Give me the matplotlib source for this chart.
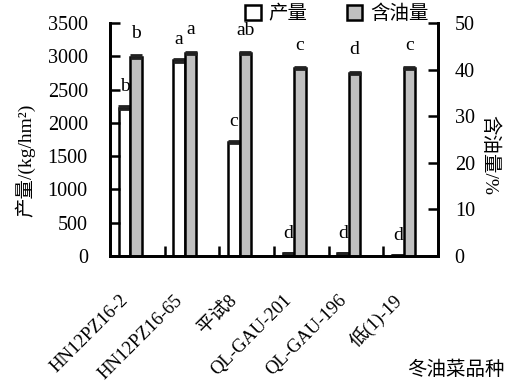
import matplotlib.pyplot as plt
import matplotlib.transforms as mtransforms
from matplotlib.patches import Patch
import numpy as np

plt.rcParams['font.family'] = ['Liberation Serif', 'Noto Sans CJK SC']

# 数据
varieties = ['HN12PZ16-2', 'HN12PZ16-65', '平试8', 'QL-GAU-201', 'QL-GAU-196', '低(1)-19']
yield_vals = [2230, 2940, 1715, 40, 40, 10]
yield_err = [20, 20, 10, 10, 10, 0]
oil_vals = [42.8, 43.6, 43.5, 40.3, 39.3, 40.3]
oil_err = [0.3, 0.2, 0.2, 0.2, 0.3, 0.2]
yield_letters = ['b', 'a', 'c', 'd', 'd', 'd']
oil_letters = ['b', 'a', 'ab', 'c', 'd', 'c']

fig = plt.figure(figsize=(5.15, 3.85), dpi=100)
ax = fig.add_axes([0.2136, 0.335, 0.637, 0.605])
ax2 = ax.twinx()

x = np.arange(len(varieties))
w = 0.21
ekw = dict(capsize=4, capthick=2, elinewidth=1.2, ecolor='#222222')
ax.bar(x - 0.235, yield_vals, w, color='white', edgecolor='black', lw=1.8,
       yerr=yield_err, error_kw=ekw)
ax2.bar(x - 0.025, oil_vals, w, color='#c0c0c0', edgecolor='black', lw=1.8,
        yerr=oil_err, error_kw=ekw)

# 显著性字母
for i in range(len(x)):
    ax.annotate(yield_letters[i], (x[i] - 0.235, yield_vals[i] + yield_err[i]),
                xytext=(0, 14), textcoords='offset points', ha='center', va='center',
                fontsize=14)
    ax2.annotate(oil_letters[i], (x[i] - 0.025, oil_vals[i] + oil_err[i]),
                 xytext=(0, 16), textcoords='offset points', ha='center', va='center',
                 fontsize=14)

ax.set_xlim(-0.5, 5.5)
ax.set_ylim(0, 3500)
ax2.set_ylim(0, 50)
ax.set_yticks(range(0, 3501, 500))
ax2.set_yticks(range(0, 51, 10))

for a in (ax, ax2):
    a.spines['top'].set_visible(False)
    for s in ('left', 'right', 'bottom'):
        a.spines[s].set_linewidth(2)
ax.tick_params(axis='y', direction='in', length=7, width=1.8, labelsize=14.5, pad=16)
ax2.tick_params(axis='y', direction='in', length=7, width=1.8, labelsize=14.5, pad=12)

# x轴：组间刻度，品种名斜放
ax.set_xticks(x)
ax.set_xticklabels([])
ax.tick_params(axis='x', which='major', length=0)
ax.set_xticks(x[:-1] + 0.5, minor=True)
ax.tick_params(axis='x', which='minor', direction='in', length=7, width=1.8)
offset = mtransforms.ScaledTranslation(-12 / 100, -42 / 100, fig.dpi_scale_trans)
for xi, name in zip(x, varieties):
    ax.text(xi, 0, name, transform=ax.get_xaxis_transform() + offset,
            rotation=45, ha='right', va='center', rotation_mode='anchor',
            fontsize=13.5)

fig.text(25 / 515, 1 - 160 / 385, '产量/(kg/hm²)', rotation=90,
         ha='center', va='center', fontsize=14)
fig.text(490 / 515, 1 - 155 / 385, '含油量/%', rotation=-90,
         ha='center', va='center', fontsize=14)
fig.text(456 / 515, 1 - 370 / 385, '冬油菜品种', ha='center', va='center', fontsize=14)

handles = [Patch(facecolor='white', edgecolor='black', lw=1.8),
           Patch(facecolor='#c0c0c0', edgecolor='black', lw=1.8)]
fig.legend(handles, ['产量', '含油量'], loc='center', ncol=2,
           bbox_to_anchor=(337 / 515, 1 - 14 / 385), frameon=False, fontsize=14,
           handlelength=0.8, handleheight=0.8, handletextpad=0.4, columnspacing=2.0)

fig.savefig('out.png', dpi=100)
